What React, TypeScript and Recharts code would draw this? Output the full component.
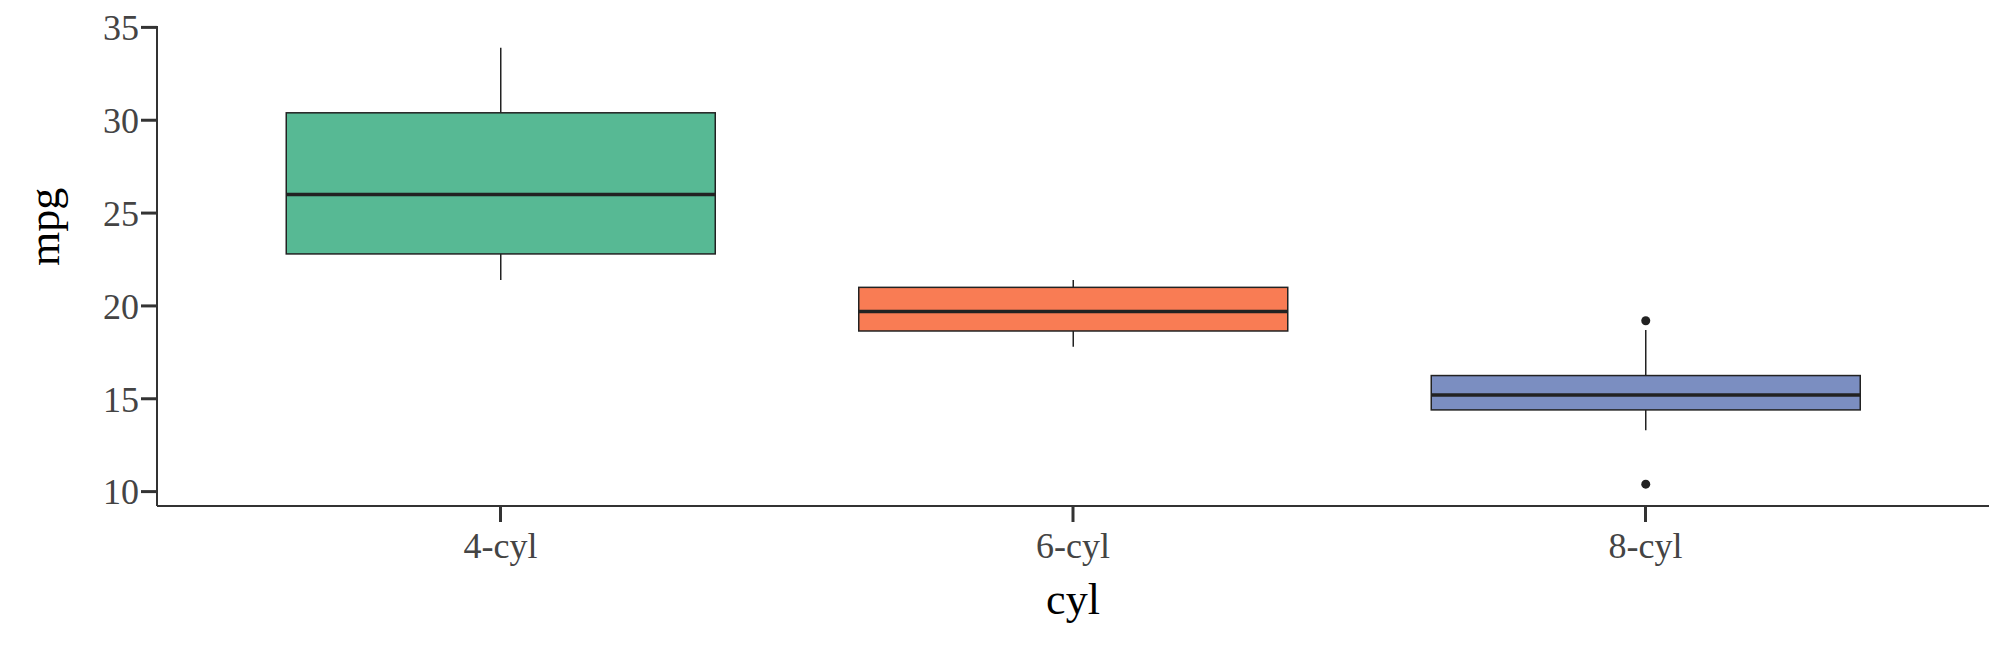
import React from 'react';
import { ComposedChart, Bar, XAxis, YAxis } from 'recharts';

const categories = ['4-cyl', '6-cyl', '8-cyl'];
const whiskerLow = [21.4, 17.8, 13.3];
const q1 = [22.8, 18.65, 14.4];
const median = [26.0, 19.7, 15.2];
const q3 = [30.4, 21.0, 16.25];
const whiskerHigh = [33.9, 21.4, 18.7];
const outliers = [[], [], [10.4, 19.2]];
const colors = ['#57b994', '#f97c54', '#7b8ec1'];
const yTicks = [10, 15, 20, 25, 30, 35];

const data = categories.map((c, i) => {
  const all = [whiskerLow[i], whiskerHigh[i], ...outliers[i]];
  const lo = Math.min(...all), hi = Math.max(...all);
  return { x: i + 1, name: c, range: [lo, hi], lo, hi, i };
});

const BoxShape = (props: any) => {
  const { x, y, width, height, payload } = props;
  const { lo, hi, i } = payload;
  const k = height / (hi - lo);
  const Y = (v: number) => y + (hi - v) * k;
  const cx = x + width / 2;
  const bw = 429;
  const bx = cx - bw / 2;
  return (
    <g>
      <line x1={cx} x2={cx} y1={Y(whiskerHigh[i])} y2={Y(q3[i])} stroke="#222" strokeWidth={1.5} />
      <line x1={cx} x2={cx} y1={Y(q1[i])} y2={Y(whiskerLow[i])} stroke="#222" strokeWidth={1.5} />
      <rect x={bx} y={Y(q3[i])} width={bw} height={Y(q1[i]) - Y(q3[i])} fill={colors[i]} stroke="#222" strokeWidth={1.5} />
      <line x1={bx} x2={bx + bw} y1={Y(median[i])} y2={Y(median[i])} stroke="#222" strokeWidth={3.5} />
      {outliers[i].map((o: number, j: number) => (
        <circle key={j} cx={cx} cy={Y(o)} r={4.5} fill="#222" />
      ))}
    </g>
  );
};

const font = 'Liberation Serif, serif';

export default function App() {
  return (
    <div style={{ position: 'absolute', left: 0, top: 0, background: '#fff' }}>
      <ComposedChart width={2016} height={648} data={data} margin={{ top: 26, right: 27, left: 0, bottom: 0 }}>
        <XAxis
          dataKey="x" type="number" domain={[0.4, 3.6]} ticks={[1, 2, 3]}
          tickFormatter={(v: number) => categories[v - 1]}
          height={142}
          axisLine={{ stroke: '#333', strokeWidth: 2 }}
          tickLine={{ stroke: '#333', strokeWidth: 3 }} tickSize={16}
          tick={{ fill: '#444', fontSize: 36, fontFamily: font, dy: 8 }}
          label={{ value: 'cyl', position: 'insideTop', dy: 72, fill: '#000', fontSize: 44, fontFamily: font }}
        />
        <XAxis xAxisId="top" orientation="top" dataKey="x" type="number" domain={[0.4, 3.6]} ticks={[]} height={0}
          axisLine={{ stroke: '#333', strokeWidth: 2 }} tick={false} tickLine={false} />
        <YAxis
          type="number" domain={[9.225, 35.075]} ticks={yTicks} width={157}
          axisLine={{ stroke: '#333', strokeWidth: 2 }}
          tickLine={{ stroke: '#333', strokeWidth: 3 }} tickSize={16}
          tick={{ fill: '#444', fontSize: 36, fontFamily: font }}
          label={{ value: 'mpg', angle: -90, position: 'insideLeft', dx: 38, fill: '#000', fontSize: 44, fontFamily: font }}
        />
        <YAxis yAxisId="right" orientation="right" width={0} domain={[9.225, 35.075]} ticks={[]}
          axisLine={{ stroke: '#333', strokeWidth: 2 }} tick={false} tickLine={false} />
        <Bar dataKey="range" barSize={429} shape={<BoxShape />} isAnimationActive={false} />
      </ComposedChart>
    </div>
  );
}
